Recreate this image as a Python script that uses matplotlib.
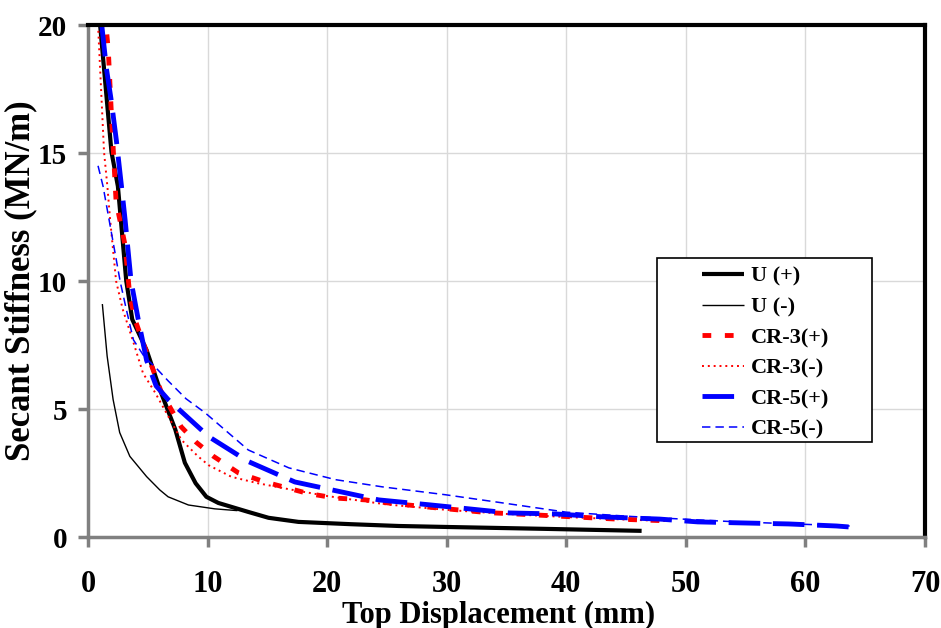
import matplotlib
matplotlib.use("Agg")
import matplotlib.pyplot as plt
from matplotlib.patches import Rectangle

# ---- data ----
u_pos_x = [0.9, 1.96, 2.5, 3.2, 3.7, 4.9, 6.1, 7.3, 8.1, 9.0, 9.9, 10.9, 13.4, 15.1, 17.6, 22.0, 26.0, 30.2, 38.0, 46.3]
u_pos_y = [20.6, 15.05, 13.7, 10.0, 8.5, 7.3, 5.65, 4.2, 2.9, 2.1, 1.57, 1.33, 0.98, 0.75, 0.59, 0.5, 0.43, 0.39, 0.32, 0.24]

u_neg_x = [1.2, 1.6, 2.1, 2.65, 3.5, 4.9, 6.0, 6.7, 8.4, 10.6, 12.5]
u_neg_y = [9.1, 7.07, 5.37, 4.08, 3.15, 2.36, 1.84, 1.57, 1.25, 1.1, 1.03]

cr3_pos_x = [1.4, 1.7, 2.0, 2.35, 3.1, 3.5, 4.0, 4.6, 6.1, 7.3, 7.8, 9.05, 10.5, 12.6, 14.8, 16.8, 18.4, 20.7, 23.2, 25.1, 29.3, 33.5, 35.8, 40.0, 44.2, 48.6]
cr3_pos_y = [20.5, 19.0, 16.1, 13.1, 11.4, 9.4, 8.4, 7.6, 5.7, 4.7, 4.3, 3.7, 3.15, 2.5, 2.15, 1.9, 1.7, 1.52, 1.45, 1.33, 1.13, 0.95, 0.9, 0.8, 0.7, 0.63]

cr3_neg_x = [0.84, 1.34, 1.62, 1.85, 2.35, 2.9, 3.8, 4.6, 5.6, 7.8, 9.2, 10.1, 12.0, 14.2, 17.0, 20.0, 25.0, 30.0, 35.0, 40.0, 45.0, 48.6]
cr3_neg_y = [20.0, 15.05, 13.7, 12.4, 10.0, 8.9, 7.6, 6.4, 5.65, 3.8, 3.15, 2.8, 2.35, 2.1, 1.85, 1.6, 1.27, 1.06, 0.9, 0.78, 0.68, 0.62]

cr5_pos_x = [1.15, 1.54, 1.96, 2.37, 2.8, 3.1, 3.6, 4.2, 4.9, 5.7, 6.7, 10.1, 13.4, 17.3, 21.2, 24.3, 28.7, 35.2, 39.1, 43.3, 47.8, 51.0, 54.7, 58.6, 62.6, 63.7]
cr5_pos_y = [20.0, 18.3, 17.0, 15.5, 13.7, 12.4, 10.0, 8.5, 6.9, 5.9, 5.37, 3.92, 2.95, 2.15, 1.76, 1.45, 1.25, 0.94, 0.9, 0.78, 0.7, 0.59, 0.55, 0.51, 0.43, 0.39]

cr5_neg_x = [0.84, 1.26, 1.76, 2.7, 3.2, 3.8, 4.7, 5.7, 6.7, 8.2, 9.8, 13.4, 16.8, 20.7, 24.6, 29.9, 34.4, 40.0, 45.5, 53.9, 63.7]
cr5_neg_y = [14.5, 13.7, 12.4, 9.96, 8.9, 7.7, 7.05, 6.6, 6.1, 5.4, 4.85, 3.4, 2.7, 2.24, 1.96, 1.65, 1.35, 0.97, 0.8, 0.6, 0.43]

x_ticks = [0, 10, 20, 30, 40, 50, 60, 70]
y_ticks = [0, 5, 10, 15, 20]

series = [
    ("U (+)", u_pos_x, u_pos_y, dict(color="black", lw=3.0, ls="-")),
    ("U (-)", u_neg_x, u_neg_y, dict(color="black", lw=1.0, ls="-")),
    ("CR-3(+)", cr3_pos_x, cr3_pos_y, dict(color="#ff0000", lw=3.5, ls=(0, (1.8, 2.8)))),
    ("CR-3(-)", cr3_neg_x, cr3_neg_y, dict(color="#ff0000", lw=1.4, ls=(0, (1.0, 2.0)))),
    ("CR-5(+)", cr5_pos_x, cr5_pos_y, dict(color="#0000ff", lw=3.5, ls=(0, (6.5, 2.6)))),
    ("CR-5(-)", cr5_neg_x, cr5_neg_y, dict(color="#0000ff", lw=1.1, ls=(0, (5.5, 3.3)))),
]

plt.rcParams['font.family'] = ['Liberation Serif', 'DejaVu Serif']
plt.rcParams['font.weight'] = 'bold'

fig = plt.figure(figsize=(9.41, 6.28), dpi=100)
ax = fig.add_axes([88 / 941, 1 - 537 / 628, (925 - 88) / 941, (537 - 25) / 628])

for label, xs, ys, st in series:
    ax.plot(xs, ys, label=label, color=st["color"], linewidth=st["lw"],
            linestyle=st["ls"], solid_capstyle="butt", dash_capstyle="butt")

ax.set_xlim(0, 70)
ax.set_ylim(0, 20)
ax.set_xticks(x_ticks)
ax.set_yticks(y_ticks)
ax.grid(True, color="#d9d9d9", linewidth=1.0)
ax.set_axisbelow(True)

for side in ("left", "bottom"):
    ax.spines[side].set_color("#808080")
    ax.spines[side].set_linewidth(2.5)
for side in ("top", "right"):
    ax.spines[side].set_color("black")
    ax.spines[side].set_linewidth(3.0)

ax.tick_params(axis="both", direction="out", color="#808080", length=7, width=2.5,
               labelsize=22)
ax.tick_params(axis="x", pad=17)
ax.tick_params(axis="y", labelsize=21, pad=8)
for lab in ax.get_xticklabels() + ax.get_yticklabels():
    lab.set_fontweight("bold")

ax.set_xlabel("Top Displacement (mm)", fontsize=22, fontweight="bold")
ax.set_ylabel("Secant Stiffness (MN/m)", fontsize=25, fontweight="bold")
ax.xaxis.set_label_coords(0.491, -0.125)
ax.yaxis.set_label_coords(-0.061, 0.5)

# legend box
ax.add_patch(Rectangle((0.680, 0.186), 0.257, 0.359, transform=ax.transAxes,
                       facecolor="white", edgecolor="black", linewidth=1.2, zorder=5))
leg = ax.legend(loc="upper left", bbox_to_anchor=(0.7306, 0.533), frameon=False,
                fontsize=16, handlelength=1.9, handletextpad=0.32,
                labelspacing=0.45, borderpad=0.1, borderaxespad=0)
leg.set_zorder(6)
for t in leg.get_texts():
    t.set_fontweight("bold")

fig.savefig("out.png", dpi=100)
